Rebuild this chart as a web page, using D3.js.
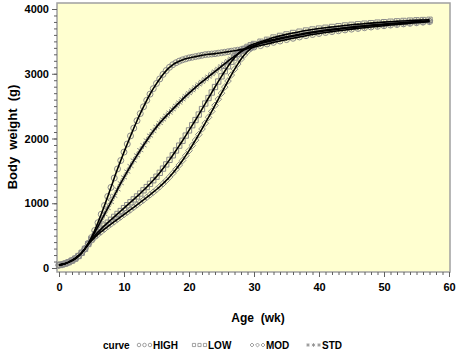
<!DOCTYPE html>
<html>
<head>
<meta charset="utf-8">
<script src="https://cdn.jsdelivr.net/npm/d3@7"></script>
<style>
  body { margin: 0; background: #fff; }
  text { font-family: "Liberation Sans", Arial, sans-serif; font-weight: bold; fill: #000; }
</style>
</head>
<body>
<script>
// ages in weeks (half-weekly to 30 wk, then weekly)
const ages = [0,0.5,1,1.5,2,2.5,3,3.5,4,4.5,5,5.5,6,6.5,7,7.5,8,8.5,9,9.5,
  10,10.5,11,11.5,12,12.5,13,13.5,14,14.5,15,15.5,16,16.5,17,17.5,18,18.5,19,19.5,
  20,20.5,21,21.5,22,22.5,23,23.5,24,24.5,25,25.5,26,26.5,27,27.5,28,28.5,29,29.5,30,
  31,32,33,34,35,36,37,38,39,40,41,42,43,44,45,46,47,48,49,50,51,52,53,54,55,56,57]

const high = [45,55,70,90,115,145,185,235,300,380,470,580,700,830,965,1105,1245,1390,1530,1660,
  1790,1915,2040,2160,2275,2385,2490,2590,2685,2770,2850,2920,2990,3050,3100,3140,3170,3195,3215,3230,
  3245,3255,3265,3275,3285,3295,3300,3305,3310,3318,3325,3332,3340,3348,3356,3364,3372,3382,3392,3402,3412,
  3435,3460,3485,3505,3528,3548,3568,3588,3606,3622,3637,3651,3664,3677,3689,3700,3711,3722,3732,3742,3752,3761,3770,3779,3788,3797,3805]

const std = [45,55,70,90,115,145,185,235,295,375,455,545,640,735,830,925,1020,1115,1215,1310,
  1400,1490,1575,1660,1740,1820,1895,1970,2045,2115,2180,2240,2295,2350,2400,2452,2505,2555,2605,2655,
  2700,2745,2790,2835,2875,2915,2955,2995,3035,3075,3115,3155,3195,3235,3270,3305,3340,3370,3395,3420,3440,
  3468,3492,3515,3538,3560,3580,3600,3618,3635,3650,3664,3677,3690,3702,3713,3723,3733,3742,3751,3760,3768,3776,3784,3791,3798,3805,3812]

const low = [45,55,70,90,115,145,185,235,295,370,440,500,555,605,655,700,745,790,835,880,
  925,970,1015,1060,1105,1150,1200,1250,1300,1355,1410,1470,1535,1600,1670,1740,1815,1890,1965,2045,
  2125,2205,2285,2370,2455,2540,2625,2710,2795,2880,2960,3040,3115,3185,3250,3305,3350,3385,3415,3440,3460,
  3495,3525,3560,3585,3608,3630,3650,3668,3684,3698,3711,3723,3735,3746,3756,3765,3774,3782,3790,3797,3804,3810,3816,3821,3826,3830,3834]

const mod = [45,55,70,90,115,145,185,235,295,365,425,475,520,560,600,640,678,715,752,789,
  826,863,900,937,975,1013,1051,1090,1130,1170,1212,1256,1302,1352,1405,1462,1524,1590,1660,1735,
  1812,1892,1975,2060,2147,2236,2327,2419,2512,2606,2700,2794,2888,2980,3070,3150,3225,3290,3345,3390,3425,
  3475,3505,3528,3550,3572,3592,3611,3629,3645,3660,3674,3687,3699,3711,3722,3732,3742,3751,3760,3768,3776,3784,3791,3798,3805,3811,3817]

const curveNames = ['HIGH', 'LOW', 'MOD', 'STD']
const xTicks = [0, 10, 20, 30, 40, 50, 60]
const yTicks = [0, 1000, 2000, 3000, 4000]

const series = [
  {name: 'HIGH', values: high, symbol: d3.symbolCircle},
  {name: 'LOW', values: low, symbol: d3.symbolSquare},
  {name: 'MOD', values: mod, symbol: d3.symbolDiamond2},
  {name: 'STD', values: std, symbol: d3.symbolAsterisk}
]

const width = 457
const height = 352
const frame = {left: 57, top: 3, right: 450, bottom: 272}
const markColor = '#8a8a8a'

const svg = d3.select('body').append('svg')
  .attr('width', width)
  .attr('height', height)

const x = d3.scaleLinear().domain([0, 60]).range([59, 449])
const y = d3.scaleLinear().domain([0, 4000]).range([268, 9])

svg.append('rect')
  .attr('x', frame.left)
  .attr('y', frame.top)
  .attr('width', frame.right - frame.left)
  .attr('height', frame.bottom - frame.top)
  .attr('fill', '#ffffd0')
  .attr('stroke', '#a0a0a0')
  .attr('stroke-width', 1.5)

// minor ticks
const xMinor = d3.axisBottom(x).tickValues(d3.range(0, 61, 1)).tickSize(3).tickFormat('')
const yMinor = d3.axisLeft(y).tickValues(d3.range(0, 4001, 100)).tickSize(3).tickFormat('')
const xAxis = d3.axisBottom(x).tickValues(xTicks).tickSize(5).tickPadding(6).tickFormat(d3.format('d'))
const yAxis = d3.axisLeft(y).tickValues(yTicks).tickSize(5).tickPadding(3).tickFormat(d3.format('d'))

function styleAxis(g) {
  g.select('.domain').remove()
  g.selectAll('line').attr('stroke', '#606060')
  g.selectAll('text').style('font-size', '11px').attr('fill', '#000')
}

svg.append('g').attr('transform', `translate(0,${frame.bottom})`).call(xMinor).call(styleAxis)
svg.append('g').attr('transform', `translate(0,${frame.bottom})`).call(xAxis).call(styleAxis)
svg.append('g').attr('transform', `translate(${frame.left},0)`).call(yMinor).call(styleAxis)
svg.append('g').attr('transform', `translate(${frame.left},0)`).call(yAxis).call(styleAxis)

const plot = svg.append('g')

series.forEach(s => {
  const sym = d3.symbol().type(s.symbol).size(s.symbol === d3.symbolAsterisk ? 34 : 28)
  plot.append('g')
    .selectAll('path')
    .data(s.values)
    .enter()
    .append('path')
    .attr('d', sym)
    .attr('transform', (d, i) => `translate(${x(ages[i])},${y(d)})`)
    .attr('fill', 'none')
    .attr('stroke', markColor)
    .attr('stroke-width', 1)
})

const line = d3.line()
  .x((d, i) => x(ages[i]))
  .y(d => y(d))
  .curve(d3.curveBasis)

series.forEach(s => {
  plot.append('path')
    .attr('d', line(s.values))
    .attr('fill', 'none')
    .attr('stroke', '#000')
    .attr('stroke-width', 1.6)
})

// axis titles
svg.append('text')
  .attr('transform', `translate(17,137) rotate(-90)`)
  .attr('text-anchor', 'middle')
  .style('font-size', '13px')
  .attr('xml:space', 'preserve')
  .text('Body  weight  (g)')

svg.append('text')
  .attr('x', 258)
  .attr('y', 322)
  .attr('text-anchor', 'middle')
  .style('font-size', '12px')
  .attr('xml:space', 'preserve')
  .text('Age  (wk)')

// legend
const legend = svg.append('g')
legend.append('text')
  .attr('x', 103)
  .attr('y', 349)
  .style('font-size', '10px')
  .text('curve')

const legendX = [137, 192, 250, 306]
curveNames.forEach((name, k) => {
  const s = series.find(t => t.name === name)
  const sym = d3.symbol().type(s.symbol).size(10)
  for (let j = 0; j < 3; j++) {
    legend.append('path')
      .attr('d', sym)
      .attr('transform', `translate(${legendX[k] + 2 + j * 5.5},345)`)
      .attr('fill', 'none')
      .attr('stroke', markColor)
      .attr('stroke-width', 0.8)
  }
  legend.append('text')
    .attr('x', legendX[k] + 16)
    .attr('y', 349)
    .style('font-size', '10px')
    .text(name)
})
</script>
</body>
</html>
